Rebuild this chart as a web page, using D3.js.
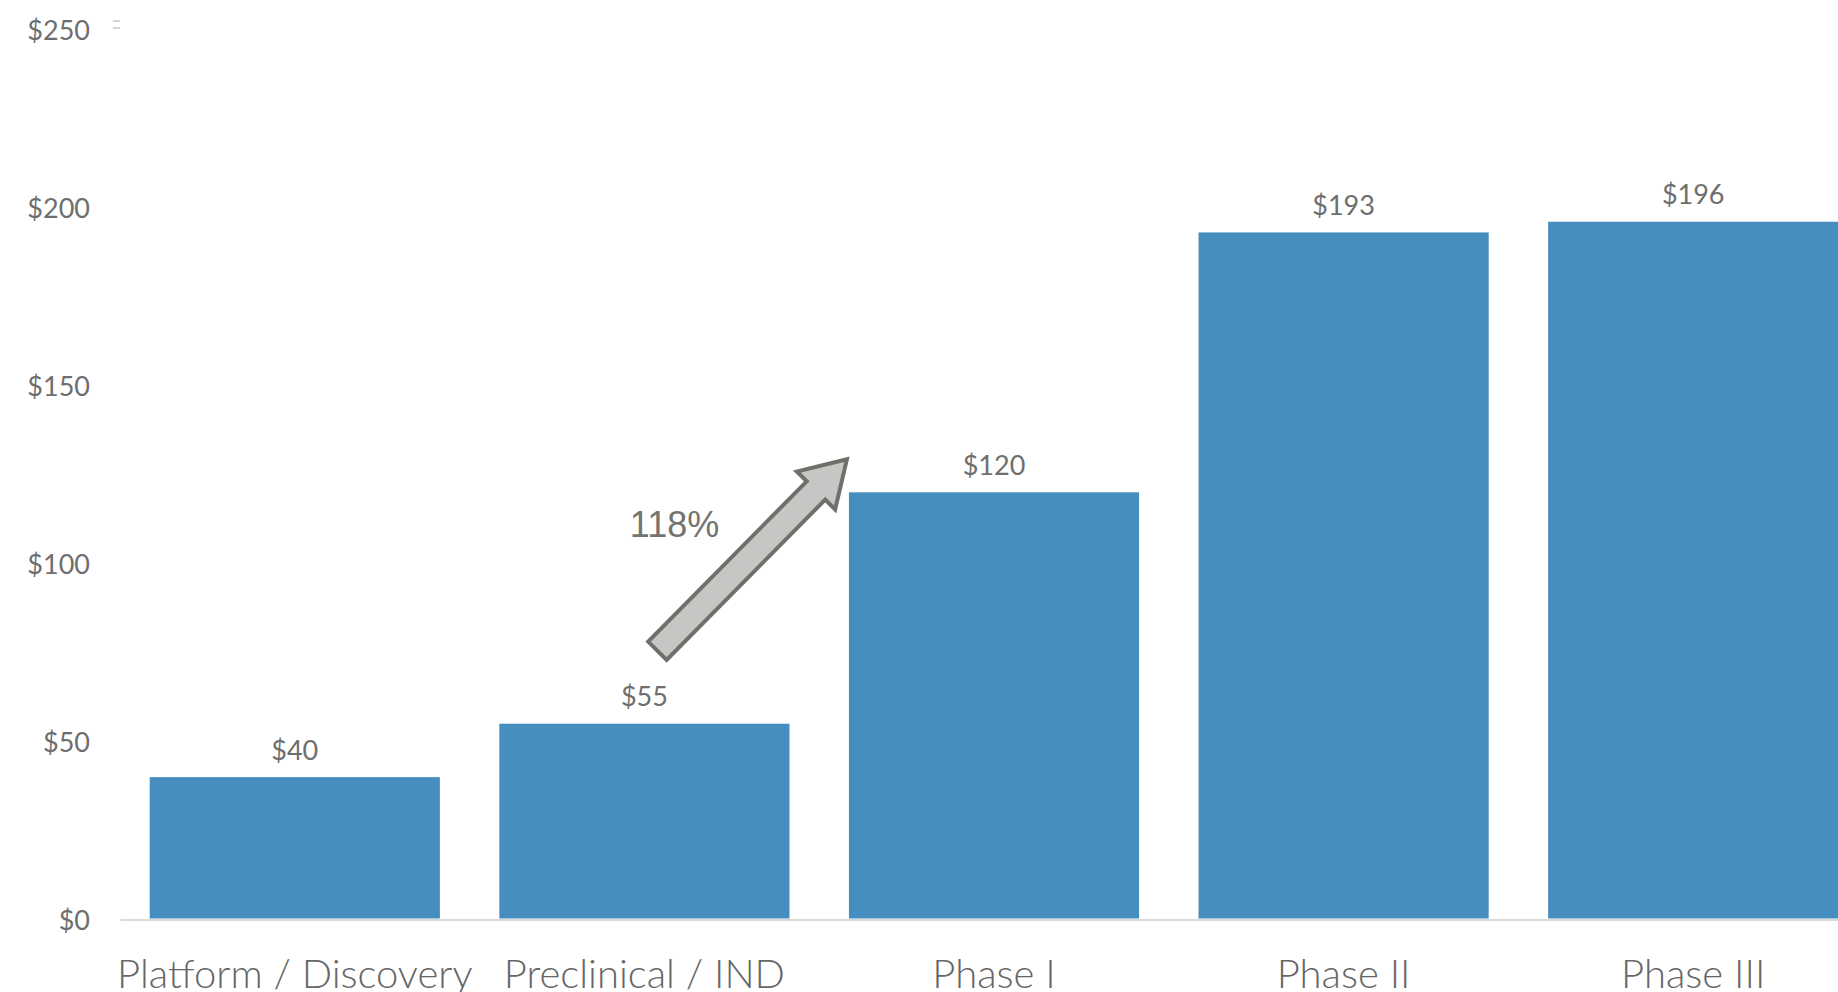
<!DOCTYPE html>
<html>
<head>
<meta charset="utf-8">
<script src="https://cdn.jsdelivr.net/npm/d3@7"></script>
<style>
  html, body { margin: 0; padding: 0; background: #ffffff; overflow: hidden; }
  svg { display: block; }
  .lbl { font-family: Lato, "Open Sans", sans-serif; font-weight: 400; fill: #6e6e6e; }
  .cat { font-family: Lato, "Open Sans", sans-serif; font-weight: 300; fill: #666666; }
</style>
</head>
<body>
<svg id="chart" width="1838" height="992"></svg>
<script>
// Median value by development stage ($)
const categories = ["Platform / Discovery", "Preclinical / IND", "Phase I", "Phase II", "Phase III"];
const values = [40, 55, 120, 193, 196];
const yTicks = [0, 50, 100, 150, 200, 250];
const growthLabel = "118%";

const barColor = "#478ec0";

const svg = d3.select("#chart");

const x = d3.scaleBand()
  .domain(categories)
  .range([120, 1868])
  .paddingInner(0.17)
  .paddingOuter(0.085);

const y = d3.scaleLinear()
  .domain([0, 250])
  .range([919.5, 29.5]);

// y-axis labels (no axis line, no gridlines)
const yAxis = d3.axisLeft(y)
  .tickValues(yTicks)
  .tickSize(0)
  .tickPadding(0)
  .tickFormat(d => "$" + d);

const yG = svg.append("g")
  .attr("transform", "translate(90,0)")
  .call(yAxis);
yG.select(".domain").remove();
yG.selectAll("text")
  .attr("class", "lbl")
  .attr("dy", "0.38em")
  .style("font-size", "27px");

// small marker at the top of the value axis
svg.append("g").selectAll("line")
  .data([-8.5, -1.5])
  .join("line")
  .attr("x1", 113).attr("x2", 120)
  .attr("y1", d => y(250) + d).attr("y2", d => y(250) + d)
  .attr("stroke", "#d6d6d6")
  .attr("stroke-width", 2);

// bars
svg.append("g").selectAll("rect")
  .data(values)
  .join("rect")
  .attr("x", (d, i) => x(categories[i]))
  .attr("y", d => y(d))
  .attr("width", x.bandwidth())
  .attr("height", d => y(0) - y(d) - 1)
  .attr("fill", barColor);

// category axis
const xAxis = d3.axisBottom(x).tickSize(0).tickPadding(0);
const xG = svg.append("g")
  .attr("transform", `translate(0,${y(0)})`)
  .call(xAxis);
xG.select(".domain")
  .attr("stroke", "#d9d9d9")
  .attr("stroke-width", 2);
xG.selectAll("text")
  .attr("class", "cat")
  .attr("y", 68)
  .attr("dy", 0)
  .style("font-size", "40px");

// value labels
svg.append("g").selectAll("text")
  .data(values)
  .join("text")
  .attr("class", "lbl")
  .attr("x", (d, i) => x(categories[i]) + x.bandwidth() / 2)
  .attr("y", d => y(d) - 17.5)
  .attr("text-anchor", "middle")
  .style("font-size", "27px")
  .text(d => "$" + d);

// growth arrow from Preclinical toward Phase I
const tail = [x(categories[1]) + x.bandwidth() / 2 + 13, y(75.5)];
const tip = [x(categories[2]) - 2, y(129.3)];
const dx = tip[0] - tail[0], dy = tip[1] - tail[1];
const L = Math.hypot(dx, dy);
const ang = Math.atan2(dy, dx) * 180 / Math.PI;
const hw = 13, hh = 27, hl = 44;
const arrowPts = [[0, -hw], [L - hl, -hw], [L - hl, -hh], [L, 0], [L - hl, hh], [L - hl, hw], [0, hw]];

svg.append("path")
  .attr("d", d3.line()(arrowPts) + "Z")
  .attr("transform", `translate(${tail[0]},${tail[1]}) rotate(${ang})`)
  .attr("fill", "#c6c6c4")
  .attr("stroke", "#6f6f6b")
  .attr("stroke-width", 4)
  .attr("stroke-linejoin", "miter");

svg.append("text")
  .attr("x", 674.5)
  .attr("y", 536.5)
  .attr("text-anchor", "middle")
  .style("font-family", "'Liberation Sans', Arial, sans-serif")
  .style("font-size", "36px")
  .attr("fill", "#737370")
  .text(growthLabel);
</script>
</body>
</html>
